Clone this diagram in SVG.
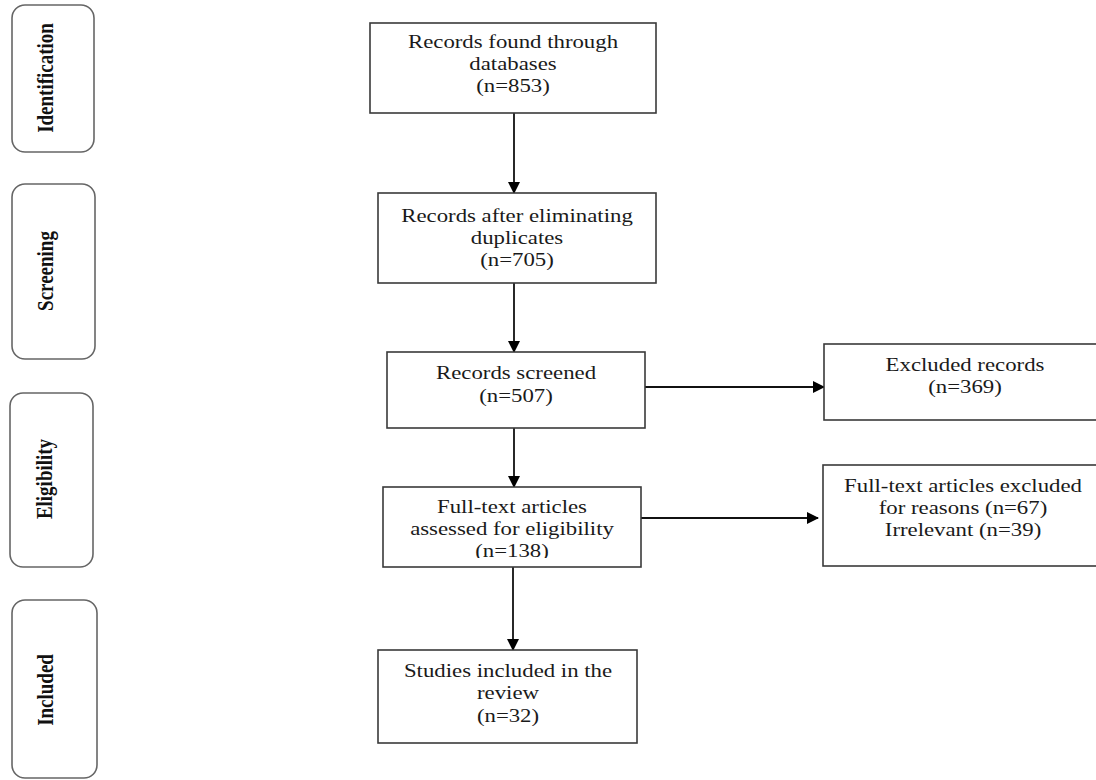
<svg xmlns="http://www.w3.org/2000/svg" width="1096" height="780" viewBox="0 0 1096 780">
<style>
.box{fill:#fff;stroke:#3a3a3a;stroke-width:1.6}
.side{fill:#fff;stroke:#666;stroke-width:1.6}
.t{font-family:"Liberation Serif","Times New Roman",serif;font-size:19px;fill:#1a1a1a;text-anchor:middle}
.s{font-family:"Liberation Serif","Times New Roman",serif;font-size:19px;font-weight:bold;fill:#111;text-anchor:middle}
.c{fill:none;stroke:#111;stroke-width:1.8}
</style>
<defs>
<marker id="ah" viewBox="0 0 12 12" refX="11" refY="6" markerWidth="12" markerHeight="12" markerUnits="userSpaceOnUse" orient="auto">
<path d="M0,0 L12,6 L0,12 Z" fill="#000"/>
</marker>
<clipPath id="clip138"><rect x="-200" y="480" width="400" height="78"/></clipPath>
</defs>
<rect width="1096" height="780" fill="#fff"/>

<g id="stage-identification">
<rect class="side" x="12" y="5" width="82" height="147" rx="13"/>
<text class="s" transform="translate(53,78) scale(1.2,1) rotate(-90)">Identification</text>
</g>
<g id="stage-screening">
<rect class="side" x="12" y="184" width="83" height="175" rx="13"/>
<text class="s" transform="translate(53,271) scale(1.2,1) rotate(-90)">Screening</text>
</g>
<g id="stage-eligibility">
<rect class="side" x="10" y="393" width="83" height="174" rx="13"/>
<text class="s" transform="translate(52,479) scale(1.2,1) rotate(-90)">Eligibility</text>
</g>
<g id="stage-included">
<rect class="side" x="12" y="600" width="85" height="178" rx="13"/>
<text class="s" transform="translate(53,690) scale(1.2,1) rotate(-90)">Included</text>
</g>

<g id="connectors">
<line class="c" x1="514" y1="113" x2="514" y2="193" marker-end="url(#ah)"/>
<line class="c" x1="514" y1="283" x2="514" y2="352" marker-end="url(#ah)"/>
<line class="c" x1="514" y1="428" x2="514" y2="487" marker-end="url(#ah)"/>
<line class="c" x1="513" y1="567" x2="513" y2="650" marker-end="url(#ah)"/>
<line class="c" x1="645" y1="387" x2="824" y2="387" marker-end="url(#ah)"/>
<line class="c" x1="638" y1="518" x2="818" y2="518" marker-end="url(#ah)"/>
</g>

<g id="records-found">
<rect class="box" x="370" y="23" width="286" height="90"/>
<g transform="translate(513,0) scale(1.2,1)">
<text class="t" x="0" y="48">Records found through</text>
<text class="t" x="0" y="70">databases</text>
<text class="t" x="0" y="92">(n=853)</text>
</g>
</g>
<g id="after-duplicates">
<rect class="box" x="378" y="193" width="278" height="90"/>
<g transform="translate(517,0) scale(1.2,1)">
<text class="t" x="0" y="222">Records after eliminating</text>
<text class="t" x="0" y="244">duplicates</text>
<text class="t" x="0" y="266">(n=705)</text>
</g>
</g>
<g id="records-screened">
<rect class="box" x="387" y="352" width="258" height="76"/>
<g transform="translate(516,0) scale(1.2,1)">
<text class="t" x="0" y="379">Records screened</text>
<text class="t" x="0" y="402">(n=507)</text>
</g>
</g>
<g id="excluded-records">
<rect class="box" x="824" y="344" width="290" height="76"/>
<g transform="translate(965,0) scale(1.2,1)">
<text class="t" x="0" y="371">Excluded records</text>
<text class="t" x="0" y="393">(n=369)</text>
</g>
</g>
<g id="full-text-assessed">
<rect class="box" x="383" y="487" width="258" height="80"/>
<g transform="translate(512,0) scale(1.2,1)">
<text class="t" x="0" y="513">Full-text articles</text>
<text class="t" x="0" y="535">assessed for eligibility</text>
<text class="t" x="0" y="557" clip-path="url(#clip138)">(n=138)</text>
</g>
</g>
<g id="full-text-excluded">
<rect class="box" x="823" y="465" width="290" height="101"/>
<g transform="translate(963,0) scale(1.2,1)">
<text class="t" x="0" y="492">Full-text articles excluded</text>
<text class="t" x="0" y="514">for reasons (n=67)</text>
<text class="t" x="0" y="536">Irrelevant (n=39)</text>
</g>
</g>
<g id="studies-included">
<rect class="box" x="378" y="650" width="259" height="93"/>
<g transform="translate(508,0) scale(1.2,1)">
<text class="t" x="0" y="677">Studies included in the</text>
<text class="t" x="0" y="699">review</text>
<text class="t" x="0" y="722">(n=32)</text>
</g>
</g>
</svg>
